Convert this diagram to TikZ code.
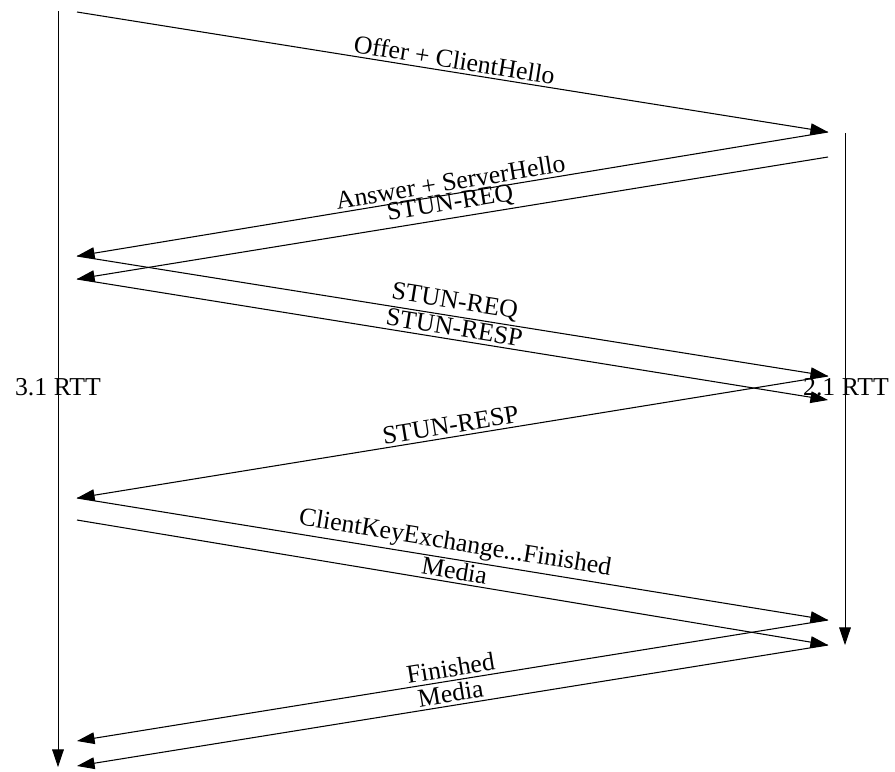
\documentclass[tikz,border=0pt]{standalone}
\usepackage{fontspec}
\setmainfont{Liberation Serif}
\usetikzlibrary{arrows.meta}
\begin{document}
\begin{tikzpicture}[x=0.03cm, y=-0.03cm, line width=0.9pt,
    msg/.style={-{Triangle[length=15pt,width=10pt]}},
    lbl/.style={above, sloped, midway, inner sep=2.5pt, font=\fontsize{22}{24}\selectfont}]
  \useasboundingbox (0,0) rectangle (895,771);
  % end points on the client side (left) and server side (right)
  \coordinate (l0) at (77,12);
  \coordinate (l1) at (77,256);
  \coordinate (l2) at (77,279);
  \coordinate (l3) at (77,498);
  \coordinate (l4) at (77,520);
  \coordinate (l5) at (77,741);
  \coordinate (l6) at (77,766);
  \coordinate (r1) at (828,132);
  \coordinate (r2) at (828,157);
  \coordinate (r3) at (828,376);
  \coordinate (r4) at (828,400);
  \coordinate (r5) at (828,620);
  \coordinate (r6) at (828,645);
  % time lines
  \coordinate (ctop) at (58,11);
  \coordinate (cbot) at (58,767);
  \coordinate (stop) at (845,133);
  \coordinate (sbot) at (845,645);
  \draw[msg, line width=0.6pt] (ctop) -- (cbot);
  \draw[msg, line width=0.6pt] (stop) -- (sbot);
  \node[font=\fontsize{22}{24}\selectfont] (crtt) at (58,387) {3.1 RTT};
  \node[font=\fontsize{22}{24}\selectfont] (srtt) at (846,387) {2.1 RTT};
  % messages
  \draw[msg] (l0) -- (r1) node[lbl] (offer) {Offer + ClientHello};
  \draw[msg] (r1) -- (l1) node[lbl] (answer) {Answer + ServerHello};
  \draw[msg] (r2) -- (l2) node[lbl] (sreq) {STUN-REQ};
  \draw[msg] (l1) -- (r3) node[lbl] (creq) {STUN-REQ};
  \draw[msg] (l2) -- (r4) node[lbl] (cresp) {STUN-RESP};
  \draw[msg] (r3) -- (l3) node[lbl] (sresp) {STUN-RESP};
  \draw[msg] (l3) -- (r5) node[lbl] (cke) {ClientKeyExchange...Finished};
  \draw[msg] (l4) -- (r6) node[lbl] (cmedia) {Media};
  \draw[msg] (r5) -- (l5) node[lbl] (fin) {Finished};
  \draw[msg] (r6) -- (l6) node[lbl] (smedia) {Media};
\end{tikzpicture}
\end{document}
